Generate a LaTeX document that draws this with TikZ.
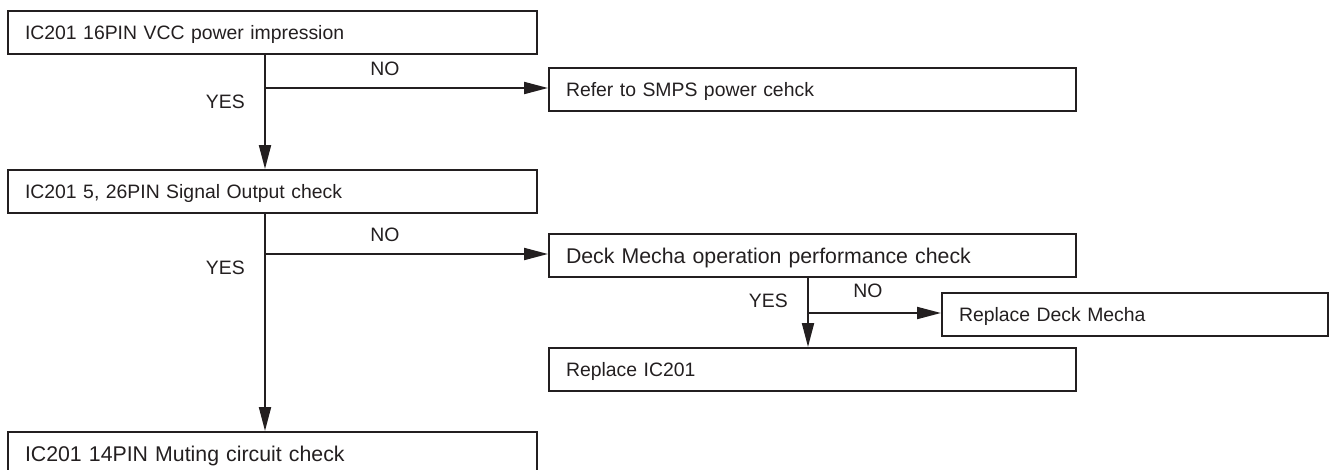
\documentclass[tikz,border=0pt]{standalone}
\usepackage{fontspec}
\setmainfont{Liberation Sans}
\usetikzlibrary{arrows.meta}
\definecolor{ink}{RGB}{35,31,32}

\begin{document}
\begin{tikzpicture}[
    x=1pt,y=-1pt,
    font=\fontsize{19.4}{23}\selectfont,
    color=ink,
    chk/.style={
      draw,
      line width=2pt,
      anchor=north west,
      minimum height=43pt,
      inner xsep=17pt,
      inner ysep=0pt,
      text height=14pt,
      text depth=0pt,
      align=left
    },
    big/.style={
      font=\fontsize{21.3}{25}\selectfont,
      text height=15.2pt
    },
    wide/.style={chk,text width=495pt},
    mid/.style={chk,text width=493pt},
    narrow/.style={chk,text width=352pt},
    lab/.style={
      inner sep=0pt,
      text height=14pt,
      text depth=0pt
    },
    arr/.style={
      line width=2pt,
      -{Triangle[length=24pt,width=12pt]}
    }
    ]
    \useasboundingbox (0,0) rectangle (1330,469);

    \node[wide] (vcc) at (7,10) {IC201 16PIN VCC power impression};
    \node[mid] (smps) at (548,67) {Refer to SMPS power cehck};
    \node[wide] (sig) at (7,169) {IC201 5, 26PIN Signal Output check};
    \node[mid,big] (deck) at (548,233) {Deck Mecha operation performance check};
    \node[narrow] (rdm) at (941,291.5) {Replace Deck Mecha};
    \node[mid] (ric) at (548,347) {Replace IC201};
    \node[wide,big] (mute) at (7,431) {IC201 14PIN Muting circuit check};

    \coordinate (j1) at (265,88);
    \coordinate (j2) at (265,254);
    \coordinate (j3) at (808,313);

    \draw[arr] (vcc.south -| j1) -- (sig.north -| j1);
    \draw[arr] (j1) -- (j1 -| smps.west);
    \draw[arr] (sig.south -| j1) -- (mute.north -| j1);
    \draw[arr] (j2) -- (j2 -| deck.west);
    \draw[arr] (deck.south -| j3) -- (ric.north -| j3);
    \draw[arr] (j3) -- (j3 -| rdm.west);

    \node[lab] (no1) at (385,68.5) {NO};
    \node[lab,anchor=east] (yes1) at (245,101.5) {YES};
    \node[lab] (no2) at (385,234) {NO};
    \node[lab,anchor=east] (yes2) at (245,267.5) {YES};
    \node[lab] (no3) at (868,290.5) {NO};
    \node[lab,anchor=east] (yes3) at (788,300.5) {YES};
\end{tikzpicture}
\end{document}
